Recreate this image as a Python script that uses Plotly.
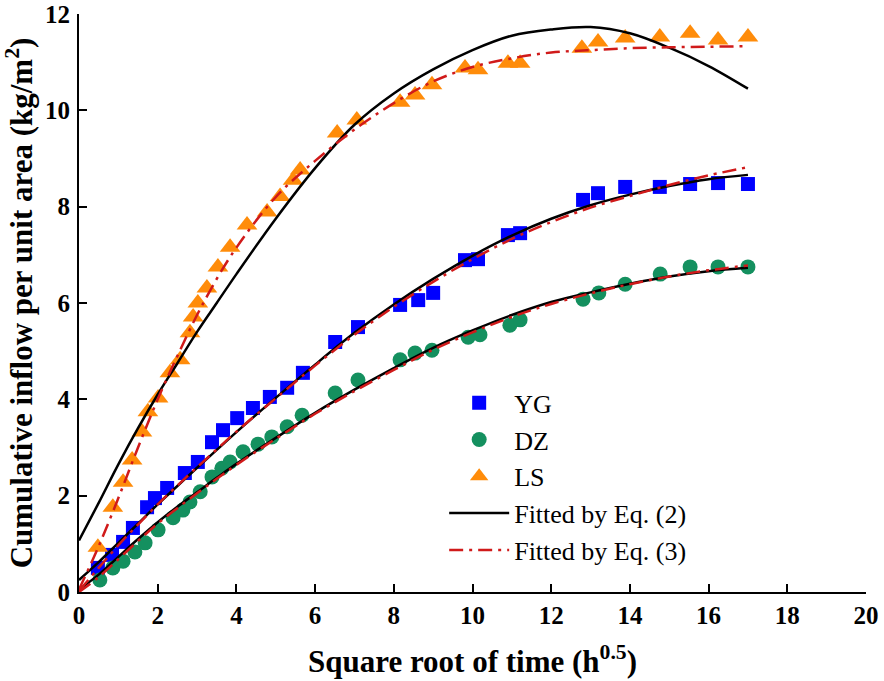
import plotly.graph_objects as go

# ---- measured points ----
yg_x = [0.48, 0.84, 1.12, 1.37, 1.73, 1.93, 2.24, 2.69, 3.02, 3.38, 3.66, 4.02, 4.42, 4.85, 5.29, 5.69,
        6.51, 7.09, 8.16, 8.62, 9.00, 9.81, 10.14, 10.90, 11.21, 12.81, 13.19, 13.88, 14.76, 15.53, 16.24, 17.0]
yg_y = [0.50, 0.77, 1.04, 1.33, 1.76, 1.95, 2.16, 2.47, 2.70, 3.11, 3.36, 3.61, 3.82, 4.05, 4.24, 4.55,
        5.19, 5.50, 5.96, 6.06, 6.21, 6.89, 6.91, 7.41, 7.45, 8.14, 8.28, 8.41, 8.41, 8.47, 8.49, 8.47]

dz_x = [0.53, 0.86, 1.12, 1.42, 1.68, 2.01, 2.39, 2.64, 2.82, 3.08, 3.38, 3.63, 3.84, 4.17, 4.55, 4.90, 5.29,
        5.67, 6.51, 7.09, 8.16, 8.54, 8.97, 9.89, 10.19, 10.95, 11.21, 12.81, 13.21, 13.88, 14.77, 15.53, 16.24, 17.0]
dz_y = [0.25, 0.50, 0.64, 0.83, 1.02, 1.29, 1.54, 1.70, 1.87, 2.08, 2.39, 2.57, 2.70, 2.91, 3.07, 3.22, 3.43,
        3.67, 4.13, 4.40, 4.82, 4.96, 5.02, 5.29, 5.34, 5.54, 5.65, 6.08, 6.21, 6.39, 6.60, 6.75, 6.75, 6.75]

ls_x = [0.48, 0.86, 1.12, 1.35, 1.60, 1.75, 2.01, 2.31, 2.57, 2.82, 2.90, 3.02, 3.25, 3.53, 3.84, 4.27, 4.78,
        5.11, 5.44, 5.62, 6.56, 7.06, 8.16, 8.54, 8.97, 9.81, 10.14, 10.90, 11.21, 12.78, 13.19, 13.88, 14.76,
        15.53, 16.24, 17.0]
ls_y = [0.93, 1.76, 2.28, 2.74, 3.32, 3.74, 4.03, 4.55, 4.82, 5.38, 5.71, 6.00, 6.31, 6.75, 7.16, 7.62, 7.89,
        8.21, 8.55, 8.76, 9.53, 9.80, 10.17, 10.32, 10.53, 10.88, 10.84, 10.98, 10.98, 11.29, 11.42, 11.50, 11.52,
        11.60, 11.46, 11.52]

# ---- fitted curves ----
fit_x = [0, 0.5, 1, 1.5, 2, 2.5, 3, 3.5, 4, 5, 6, 7, 8, 9, 10, 11, 12, 13, 14, 15, 16, 17]

yg_eq2 = [0.25, 0.62, 1.02, 1.42, 1.82, 2.20, 2.58, 2.95, 3.32, 4.03, 4.72, 5.38, 5.97, 6.50, 6.98, 7.40, 7.75, 8.03, 8.25, 8.43, 8.57, 8.66]
yg_eq3 = [0.02, 0.50, 0.97, 1.40, 1.82, 2.21, 2.59, 2.96, 3.33, 4.02, 4.70, 5.34, 5.92, 6.44, 6.91, 7.33, 7.68, 7.98, 8.22, 8.45, 8.65, 8.82]

dz_eq2 = [0.05, 0.36, 0.73, 1.10, 1.45, 1.77, 2.07, 2.37, 2.66, 3.20, 3.72, 4.20, 4.65, 5.07, 5.43, 5.75, 6.02, 6.22, 6.40, 6.55, 6.66, 6.73]
dz_eq3 = [0.00, 0.31, 0.68, 1.06, 1.42, 1.74, 2.05, 2.35, 2.64, 3.18, 3.70, 4.17, 4.61, 5.03, 5.39, 5.71, 5.98, 6.20, 6.39, 6.55, 6.68, 6.78]

ls_eq2 = [1.07, 1.85, 2.65, 3.40, 4.10, 4.75, 5.40, 6.00, 6.60, 7.75, 8.80, 9.70, 10.35, 10.85, 11.25, 11.55, 11.68, 11.73, 11.60, 11.30, 10.92, 10.45]
ls_eq3 = [0.05, 0.95, 1.95, 3.00, 4.00, 4.90, 5.75, 6.50, 7.15, 8.20, 8.95, 9.60, 10.15, 10.60, 10.90, 11.08, 11.20, 11.25, 11.29, 11.31, 11.32, 11.33]

x_ticks = [0, 2, 4, 6, 8, 10, 12, 14, 16, 18, 20]
y_ticks = [0, 2, 4, 6, 8, 10, 12]

BLUE = "#0000FF"
GREEN = "#14905F"
ORANGE = "#FF8C0A"
RED = "#D01A1A"
SERIF = "Liberation Serif, Times New Roman, serif"

fig = go.Figure()

fig.add_trace(go.Scatter(x=yg_x, y=yg_y, mode="markers", name="YG", legendgroup="a",
                         marker=dict(symbol="square", size=14, color=BLUE)))
fig.add_trace(go.Scatter(x=dz_x, y=dz_y, mode="markers", name="DZ", legendgroup="b",
                         marker=dict(symbol="circle", size=15, color=GREEN)))
fig.add_trace(go.Scatter(x=ls_x, y=ls_y, mode="markers", name="LS", legendgroup="c",
                         marker=dict(symbol="triangle-up", size=18, color=ORANGE)))

for i, yy in enumerate([yg_eq2, dz_eq2, ls_eq2]):
    fig.add_trace(go.Scatter(x=fit_x, y=yy, mode="lines", name="Fitted by Eq. (2)", legendgroup="d",
                             showlegend=(i == 0), line=dict(color="black", width=2.5, shape="spline")))
for i, yy in enumerate([yg_eq3, dz_eq3, ls_eq3]):
    fig.add_trace(go.Scatter(x=fit_x, y=yy, mode="lines", name="Fitted by Eq. (3)", legendgroup="e",
                             showlegend=(i == 0),
                             line=dict(color=RED, width=2.5, dash="14px,6px,3px,6px", shape="spline")))

axis_common = dict(
    showline=True, linecolor="black", linewidth=2,
    ticks="inside", ticklen=8, tickwidth=2, tickcolor="black",
    showgrid=False, zeroline=False, automargin=False,
    ticklabeloverflow="allow",
    tickfont=dict(family=SERIF, size=25, color="black", weight="bold"),
)

fig.update_xaxes(range=[0, 20], tickvals=x_ticks, ticktext=[str(v) for v in x_ticks],
                 title=dict(text="Square root of time (h<sup>0.5</sup>)",
                            font=dict(family=SERIF, size=31, color="black", weight="bold"), standoff=22),
                 **axis_common)
fig.update_yaxes(range=[0, 12], tickvals=y_ticks, ticktext=[str(v) for v in y_ticks],
                 ticklabelstandoff=2,
                 title=dict(text="Cumulative inflow per unit area (kg/m<sup>2</sup>)",
                            font=dict(family=SERIF, size=31, color="black", weight="bold"), standoff=6),
                 **axis_common)

fig.update_layout(
    width=884, height=681,
    margin=dict(l=79, r=18, t=14, b=89),
    plot_bgcolor="white", paper_bgcolor="white",
    showlegend=True,
    legend=dict(x=0.464, y=0.368, xanchor="left", yanchor="top",
                font=dict(family=SERIF, size=26, color="black"),
                traceorder="grouped", tracegroupgap=0, itemwidth=60,
                bgcolor="rgba(0,0,0,0)"),
)

# remove the browser's default 8px body margin so the figure fills the window
fig.write_html("out.html", config={"displayModeBar": False},
               post_script="document.body.style.margin='0';")
